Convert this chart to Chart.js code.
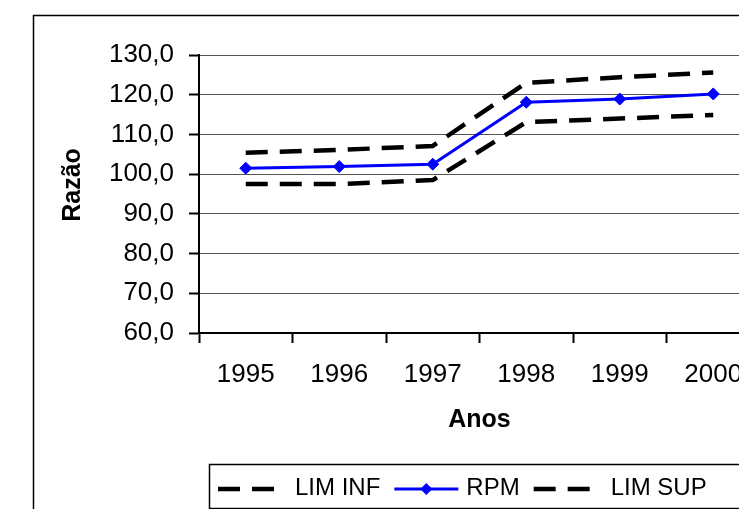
<!DOCTYPE html>
<html>
<head>
<meta charset="utf-8">
<script src="https://cdn.jsdelivr.net/npm/chart.js@4/dist/chart.umd.min.js"></script>
<style>
  html, body { margin: 0; padding: 0; background: #fff; width: 739px; height: 509px; overflow: hidden; }
  canvas { display: block; }
</style>
</head>
<body>
<canvas id="c" width="800" height="509"></canvas>
<script>
// Anos e séries
const years  = ['1995', '1996', '1997', '1998', '1999', '2000'];
const limInf = [97.5, 97.5, 98.5, 113.1, 114.0, 114.9];
const rpm    = [101.5, 101.9, 102.5, 118.1, 118.9, 120.2];
const limSup = [105.4, 106.1, 107.1, 123.0, 124.4, 125.6];

// Eixo Y
const yMin = 60, yMax = 130, yStep = 10;
const yTitle = 'Razão';
const xTitle = 'Anos';

const FONT = "'Liberation Sans', Arial, sans-serif";
const fmt = v => v.toFixed(1).replace('.', ',');

// Moldura, títulos dos eixos e legenda
const decor = {
  id: 'decor',
  beforeDraw(chart) {
    const ctx = chart.ctx;
    ctx.save();
    ctx.fillStyle = '#fff';
    ctx.fillRect(0, 0, chart.width, chart.height);
    ctx.strokeStyle = '#000';
    ctx.lineWidth = 1.5;
    ctx.strokeRect(33.5, 15.5, chart.width + 20, chart.height + 20);
    ctx.restore();
  },
  afterDraw(chart) {
    const ctx = chart.ctx;
    const area = chart.chartArea;
    ctx.save();
    ctx.fillStyle = '#000';
    ctx.textAlign = 'center';
    ctx.textBaseline = 'middle';
    ctx.font = 'bold 25px ' + FONT;
    ctx.fillText(xTitle, (area.left + area.right) / 2, 420);
    ctx.save();
    ctx.translate(73, 185);
    ctx.rotate(-Math.PI / 2);
    ctx.fillText(yTitle, 0, 0);
    ctx.restore();

    // legenda
    ctx.lineWidth = 1.5;
    ctx.strokeStyle = '#000';
    ctx.strokeRect(209.5, 464.5, 600, 44);
    ctx.font = '24px ' + FONT;
    ctx.textAlign = 'left';
    const ly = 489;
    let x = 218;
    chart.data.datasets.forEach(ds => {
      ctx.save();
      ctx.strokeStyle = ds.borderColor;
      ctx.lineWidth = ds.borderWidth;
      ctx.setLineDash(ds.borderDash || []);
      ctx.beginPath();
      const len = ds.borderDash ? 56 : 64;
      ctx.moveTo(x, ly);
      ctx.lineTo(x + len, ly);
      ctx.stroke();
      if (ds.pointRadius > 0) {
        const cx = x + 32, r = ds.pointRadius;
        ctx.setLineDash([]);
        ctx.fillStyle = ds.pointBackgroundColor;
        ctx.beginPath();
        ctx.moveTo(cx, ly - r); ctx.lineTo(cx + r, ly);
        ctx.lineTo(cx, ly + r); ctx.lineTo(cx - r, ly);
        ctx.closePath();
        ctx.fill();
      }
      ctx.restore();
      const tx = x + (ds.borderDash ? 77 : 72);
      ctx.fillText(ds.label, tx, ly - 1);
      x = tx + ctx.measureText(ds.label).width + 14;
    });
    ctx.restore();
  }
};

new Chart(document.getElementById('c'), {
  type: 'line',
  data: {
    labels: years,
    datasets: [
      { label: 'LIM INF', data: limInf, borderColor: '#000', borderWidth: 4.5,
        borderDash: [22, 12], pointRadius: 0, tension: 0, fill: false },
      { label: 'RPM', data: rpm, borderColor: '#0000ff', borderWidth: 3,
        pointStyle: 'rectRot', pointRadius: 6, pointBackgroundColor: '#0000ff',
        pointBorderColor: '#0000ff', pointBorderWidth: 1, tension: 0, fill: false },
      { label: 'LIM SUP', data: limSup, borderColor: '#000', borderWidth: 4.5,
        borderDash: [22, 12], pointRadius: 0, tension: 0, fill: false }
    ]
  },
  options: {
    responsive: false,
    animation: false,
    layout: { padding: { left: 0, top: 55, right: 40, bottom: 0 } },
    plugins: { legend: { display: false }, tooltip: { enabled: false } },
    scales: {
      x: {
        offset: true,
        grid: { display: true, drawOnChartArea: false, offset: true,
                tickLength: 10, tickColor: '#000', tickWidth: 2 },
        border: { display: true, color: '#000', width: 2 },
        ticks: { color: '#000', font: { family: FONT, size: 26 }, padding: 16,
                 maxRotation: 0, autoSkip: false },
        afterFit(scale) { scale.height = 176; }
      },
      y: {
        min: yMin, max: yMax,
        grid: { color: '#555', lineWidth: 1, borderDash: [1, 1],
                tickLength: 10, tickColor: '#000', tickWidth: 2, tickBorderDash: [] },
        border: { display: true, color: '#000', width: 2 },
        ticks: { stepSize: yStep, color: '#000', font: { family: FONT, size: 26 },
                 padding: 15, callback: v => fmt(v) },
        afterFit(scale) { scale.width = 199; }
      }
    }
  },
  plugins: [decor]
});
</script>
</body>
</html>
